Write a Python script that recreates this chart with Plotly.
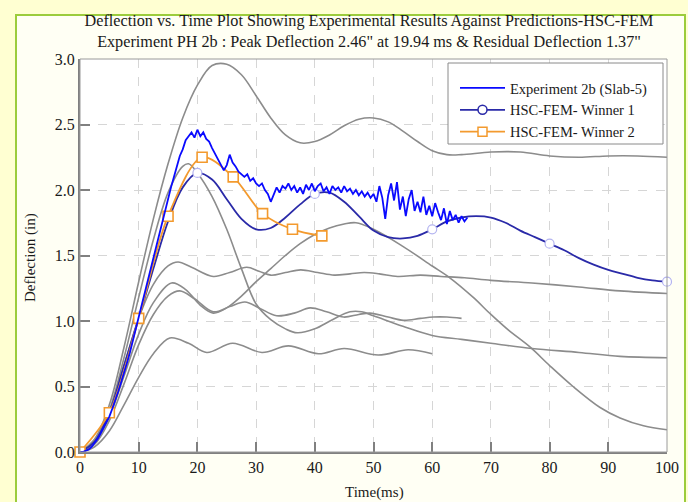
import numpy as np
import plotly.graph_objects as go

# ---------------- data ----------------
# Experiment 2b (Slab-5), sampled every 0.5 ms from 0 to 66 ms
exp_time = np.arange(0, 66.01, 0.5)
exp_defl = [
    0.00, 0.00, 0.01, 0.02, 0.04, 0.07, 0.10, 0.14, 0.18, 0.22,
    0.27, 0.33, 0.39, 0.46, 0.53, 0.60, 0.68, 0.76, 0.85, 0.94,
    1.03, 1.12, 1.21, 1.31, 1.40, 1.49, 1.58, 1.68, 1.77, 1.86,
    1.94, 2.02, 2.10, 2.18, 2.26, 2.31, 2.38, 2.41, 2.44, 2.40,
    2.46, 2.41, 2.44, 2.39, 2.37, 2.32, 2.28, 2.24, 2.20, 2.15,
    2.19, 2.27, 2.21, 2.18, 2.14, 2.12, 2.10, 2.12, 2.07, 2.09,
    2.05, 2.03, 2.05, 2.00, 1.97, 1.91, 1.96, 2.02, 1.98, 2.03,
    2.01, 2.05, 2.00, 2.03, 1.98, 2.02, 1.97, 2.04, 2.00, 2.05,
    1.99, 2.03, 2.05, 1.99, 2.02, 1.97, 2.03, 2.00, 2.02, 1.98,
    2.03, 1.99, 2.01, 1.97, 2.00, 1.96, 1.99, 1.95, 1.98, 1.94,
    1.97, 1.91, 2.03, 1.94, 1.78, 1.96, 2.05, 1.92, 2.06, 1.85,
    1.95, 1.80, 1.93, 2.00, 1.84, 1.91, 1.83, 1.95, 1.81, 1.88,
    1.80, 1.90, 1.83, 1.77, 1.86, 1.74, 1.84, 1.77, 1.81, 1.75,
    1.80, 1.76, 1.79,
]

# HSC-FEM Winner 1
w1_time = [0, 2.5, 5, 7.5, 10, 12.5, 15, 17.5, 20, 22.5, 25, 27.5, 30, 32.5, 35,
           37.5, 40, 42.5, 45, 47.5, 50, 52.5, 55, 57.5, 60, 62.5, 65, 67.5, 70,
           72.5, 75, 77.5, 80, 82.5, 85, 87.5, 90, 92.5, 95, 97.5, 100]
w1_defl = [0, 0.08, 0.30, 0.66, 1.02, 1.40, 1.76, 2.02, 2.13, 2.08, 1.93, 1.78,
           1.70, 1.71, 1.79, 1.89, 1.97, 1.98, 1.91, 1.80, 1.69, 1.64, 1.63, 1.65,
           1.70, 1.76, 1.79, 1.80, 1.79, 1.75, 1.69, 1.64, 1.59, 1.54, 1.48, 1.43,
           1.39, 1.36, 1.33, 1.31, 1.30]
w1_marker_time = [0, 20, 40, 60, 80, 100]

# HSC-FEM Winner 2
w2_time = [0, 5, 10, 15, 20.8, 26.1, 31.1, 36.2, 41.2]
w2_defl = [0, 0.30, 1.02, 1.80, 2.25, 2.10, 1.82, 1.70, 1.65]

# Other HSC-FEM candidate runs
g1_time = [0, 2.5, 5, 7.5, 10, 12.5, 15, 17.5, 20, 22.5, 25, 27.5, 30, 32.5, 35,
           37.5, 40, 42.5, 45, 47.5, 50, 52.5, 55, 57.5, 60, 62.5, 65, 70, 75, 80,
           85, 90, 95, 100]
g1_defl = [0, 0.10, 0.36, 0.80, 1.30, 1.78, 2.20, 2.55, 2.80, 2.95, 2.96, 2.88,
           2.72, 2.55, 2.42, 2.36, 2.37, 2.42, 2.49, 2.54, 2.55, 2.52, 2.45, 2.37,
           2.30, 2.27, 2.27, 2.29, 2.29, 2.26, 2.25, 2.26, 2.26, 2.25]

g2_time = [0, 2.5, 5, 7.5, 10, 12.5, 15, 17.5, 18.5, 20, 22.5, 25, 27.5, 30, 32.5,
           35, 37, 40, 43, 46, 48, 50, 55, 60, 65, 70, 77, 85, 92, 100]
g2_defl = [0, 0.09, 0.32, 0.72, 1.18, 1.62, 1.98, 2.18, 2.20, 2.13, 1.95, 1.70,
           1.40, 1.13, 1.01, 0.94, 0.91, 0.94, 1.01, 1.07, 1.07, 1.04, 0.96, 0.89,
           0.86, 0.83, 0.79, 0.76, 0.73, 0.72]

g3_time = [0, 2.5, 5, 7.5, 10, 12.5, 15, 16.7, 19, 22.7, 25.5, 28.4, 30.5, 32.5,
           35, 37.6, 40.5, 43.3, 46, 48.4, 51, 54.1, 58, 61.5, 65.5, 70, 77, 85,
           92, 100]
g3_defl = [0, 0.08, 0.30, 0.66, 1.02, 1.28, 1.42, 1.45, 1.41, 1.34, 1.37, 1.41,
           1.38, 1.35, 1.37, 1.39, 1.37, 1.35, 1.36, 1.37, 1.36, 1.34, 1.35, 1.34,
           1.33, 1.31, 1.29, 1.26, 1.23, 1.21]

g4_time = [0, 2.5, 5, 7.5, 10, 12.5, 15.6, 18, 20.5, 22.7, 25, 27.5, 30, 32.5, 35,
           37.5, 40, 42.5, 45, 47, 50, 55, 60, 63, 67, 70, 73, 76.7, 80, 84, 88.6,
           92, 96, 100]
g4_defl = [0, 0.07, 0.27, 0.58, 0.90, 1.14, 1.29, 1.24, 1.12, 1.06, 1.10, 1.19,
           1.30, 1.40, 1.50, 1.59, 1.66, 1.71, 1.74, 1.75, 1.70, 1.57, 1.42, 1.33,
           1.18, 1.05, 0.93, 0.80, 0.66, 0.50, 0.34, 0.26, 0.20, 0.17]

g5_time = [0, 2.5, 5, 7.5, 10, 12.5, 15, 17, 19.5, 22.7, 25.5, 28.1, 30.5, 33.5,
           36.5, 39.2, 42, 44.9, 47.5, 49.4, 52.5, 55.1, 58, 60.2, 62.5, 65]
g5_defl = [0, 0.06, 0.24, 0.52, 0.82, 1.05, 1.19, 1.23, 1.17, 1.07, 1.11, 1.145,
           1.10, 1.04, 1.06, 1.10, 1.07, 1.03, 1.05, 1.06, 1.03, 1.005, 1.02, 1.03,
           1.03, 1.02]

g6_time = [0, 2.5, 5, 7.5, 10, 12.5, 15.3, 18.5, 21.6, 26, 31, 35.5, 40.6, 45,
           50.8, 55.9, 60]
g6_defl = [0, 0.04, 0.16, 0.36, 0.57, 0.75, 0.87, 0.83, 0.76, 0.83, 0.76, 0.81,
           0.75, 0.79, 0.74, 0.78, 0.75]

gray_runs = [(g1_time, g1_defl), (g2_time, g2_defl), (g3_time, g3_defl),
             (g4_time, g4_defl), (g5_time, g5_defl), (g6_time, g6_defl)]

x_ticks = [0, 10, 20, 30, 40, 50, 60, 70, 80, 90, 100]
y_ticks = [0.0, 0.5, 1.0, 1.5, 2.0, 2.5, 3.0]

# ---------------- styling ----------------
W, H = 688, 502
L, R, T, B = 80, 21, 59, 50
PW, PH = W - L - R, H - T - B

def xp(px):
    return (px - L) / PW

def yp(py):
    return (H - B - py) / PH

SERIF = "Liberation Serif, Times New Roman, serif"
GRAY = "#8c8c8c"
EXP_BLUE = "#0a0aff"
W1_BLUE = "#2a2aa8"
ORANGE = "#f39a2e"

fig = go.Figure()

for t, d in gray_runs:
    fig.add_trace(go.Scatter(x=t, y=d, mode="lines", showlegend=False,
                             line=dict(color=GRAY, width=1.6, shape="spline", smoothing=1.0),
                             hoverinfo="skip"))

# Winner 1 curve and its sparse markers
fig.add_trace(go.Scatter(x=w1_time, y=w1_defl, mode="lines", showlegend=False,
                         line=dict(color=W1_BLUE, width=1.8, shape="spline", smoothing=1.0)))
w1_marker_defl = [w1_defl[w1_time.index(t)] for t in w1_marker_time]
fig.add_trace(go.Scatter(x=w1_marker_time, y=w1_marker_defl, mode="markers", showlegend=False,
                         marker=dict(symbol="circle", size=9, color="white",
                                     line=dict(color="#b4b4f0", width=1.2)),
                         cliponaxis=False))

# Winner 2
fig.add_trace(go.Scatter(x=w2_time, y=w2_defl, mode="lines+markers", showlegend=False,
                         line=dict(color=ORANGE, width=1.8, shape="spline", smoothing=0.9),
                         marker=dict(symbol="square", size=10, color="white",
                                     line=dict(color=ORANGE, width=1.6)),
                         cliponaxis=False))

# Experiment
fig.add_trace(go.Scatter(x=exp_time, y=exp_defl, mode="lines", name="Experiment 2b (Slab-5)",
                         line=dict(color=EXP_BLUE, width=1.8)))

# legend entries
fig.add_trace(go.Scatter(x=[None], y=[None], mode="lines+markers", name="HSC-FEM- Winner 1",
                         line=dict(color=W1_BLUE, width=1.8),
                         marker=dict(symbol="circle", size=9, color="white",
                                     line=dict(color=W1_BLUE, width=1.5))))
fig.add_trace(go.Scatter(x=[None], y=[None], mode="lines+markers", name="HSC-FEM- Winner 2",
                         line=dict(color=ORANGE, width=1.8),
                         marker=dict(symbol="square", size=9, color="white",
                                     line=dict(color=ORANGE, width=1.5))))

shapes = [
    # inner panel with green border
    dict(type="rect", xref="paper", yref="paper", x0=xp(16), x1=xp(685), y0=yp(530), y1=yp(15),
         line=dict(color="#9ccc3c", width=2), fillcolor="#fffff4", layer="below"),
    # plot area background
    dict(type="rect", xref="paper", yref="paper", x0=0, x1=1, y0=0, y1=1,
         line=dict(width=0), fillcolor="white", layer="below"),
    # plot frame
    dict(type="rect", xref="paper", yref="paper", x0=0, x1=1, y0=0, y1=1,
         line=dict(color="#9a9a9a", width=1), layer="above"),
    # legend box
    dict(type="rect", xref="paper", yref="paper", x0=xp(448), x1=xp(663), y0=yp(144), y1=yp(63),
         line=dict(color="#8a8a8a", width=1), fillcolor="white", layer="above"),
]

annotations = [
    dict(text="Time(ms)", xref="paper", yref="paper", x=xp(375), y=yp(492),
         xanchor="center", yanchor="middle", showarrow=False,
         font=dict(family=SERIF, size=15, color="#1a1a1a")),
    dict(text="Deflection (in)", xref="paper", yref="paper", x=xp(30), y=yp(258),
         xanchor="center", yanchor="middle", showarrow=False, textangle=-90,
         font=dict(family=SERIF, size=15, color="#1a1a1a")),
]

fig.update_layout(
    width=W, height=H,
    margin=dict(l=L, r=R, t=T, b=B, autoexpand=False),
    paper_bgcolor="#ffffd2",
    plot_bgcolor="white",
    shapes=shapes,
    annotations=annotations,
    font=dict(family=SERIF, color="#1a1a1a", size=16),
    title=dict(
        text="Deflection vs. Time Plot Showing Experimental Results Against Predictions-HSC-FEM<br>"
             "Experiment PH 2b : Peak Deflection 2.46\" at 19.94 ms &amp; Residual Deflection 1.37\"",
        x=xp(369), xanchor="center", xref="paper",
        y=1 - 26 / H, yanchor="top", yref="container",
        font=dict(family=SERIF, size=16.2, color="#1a1a1a"),
    ),
    legend=dict(
        x=xp(455), y=yp(72), xanchor="left", yanchor="top",
        bgcolor="rgba(0,0,0,0)", borderwidth=0,
        font=dict(family=SERIF, size=14.5, color="#1a1a1a"),
        itemwidth=45, tracegroupgap=0,
    ),
    xaxis=dict(
        range=[0, 100], tickvals=x_ticks, ticktext=[str(v) for v in x_ticks],
        showline=True, linecolor="#808080", linewidth=2,
        ticks="inside", ticklen=10, tickwidth=1.5, tickcolor="#808080",
        showgrid=True, gridcolor="#d6d6d6", griddash="dash", gridwidth=1,
        zeroline=False, tickfont=dict(size=16), automargin=False,
    ),
    yaxis=dict(
        range=[0, 3], tickvals=y_ticks, ticktext=[f"{v:.1f}" for v in y_ticks],
        showline=True, linecolor="#808080", linewidth=2,
        ticks="inside", ticklen=10, tickwidth=1.5, tickcolor="#808080",
        showgrid=True, gridcolor="#d6d6d6", griddash="dash", gridwidth=1,
        zeroline=False, tickfont=dict(size=16), automargin=False,
    ),
)

fig.write_html("out.html")
